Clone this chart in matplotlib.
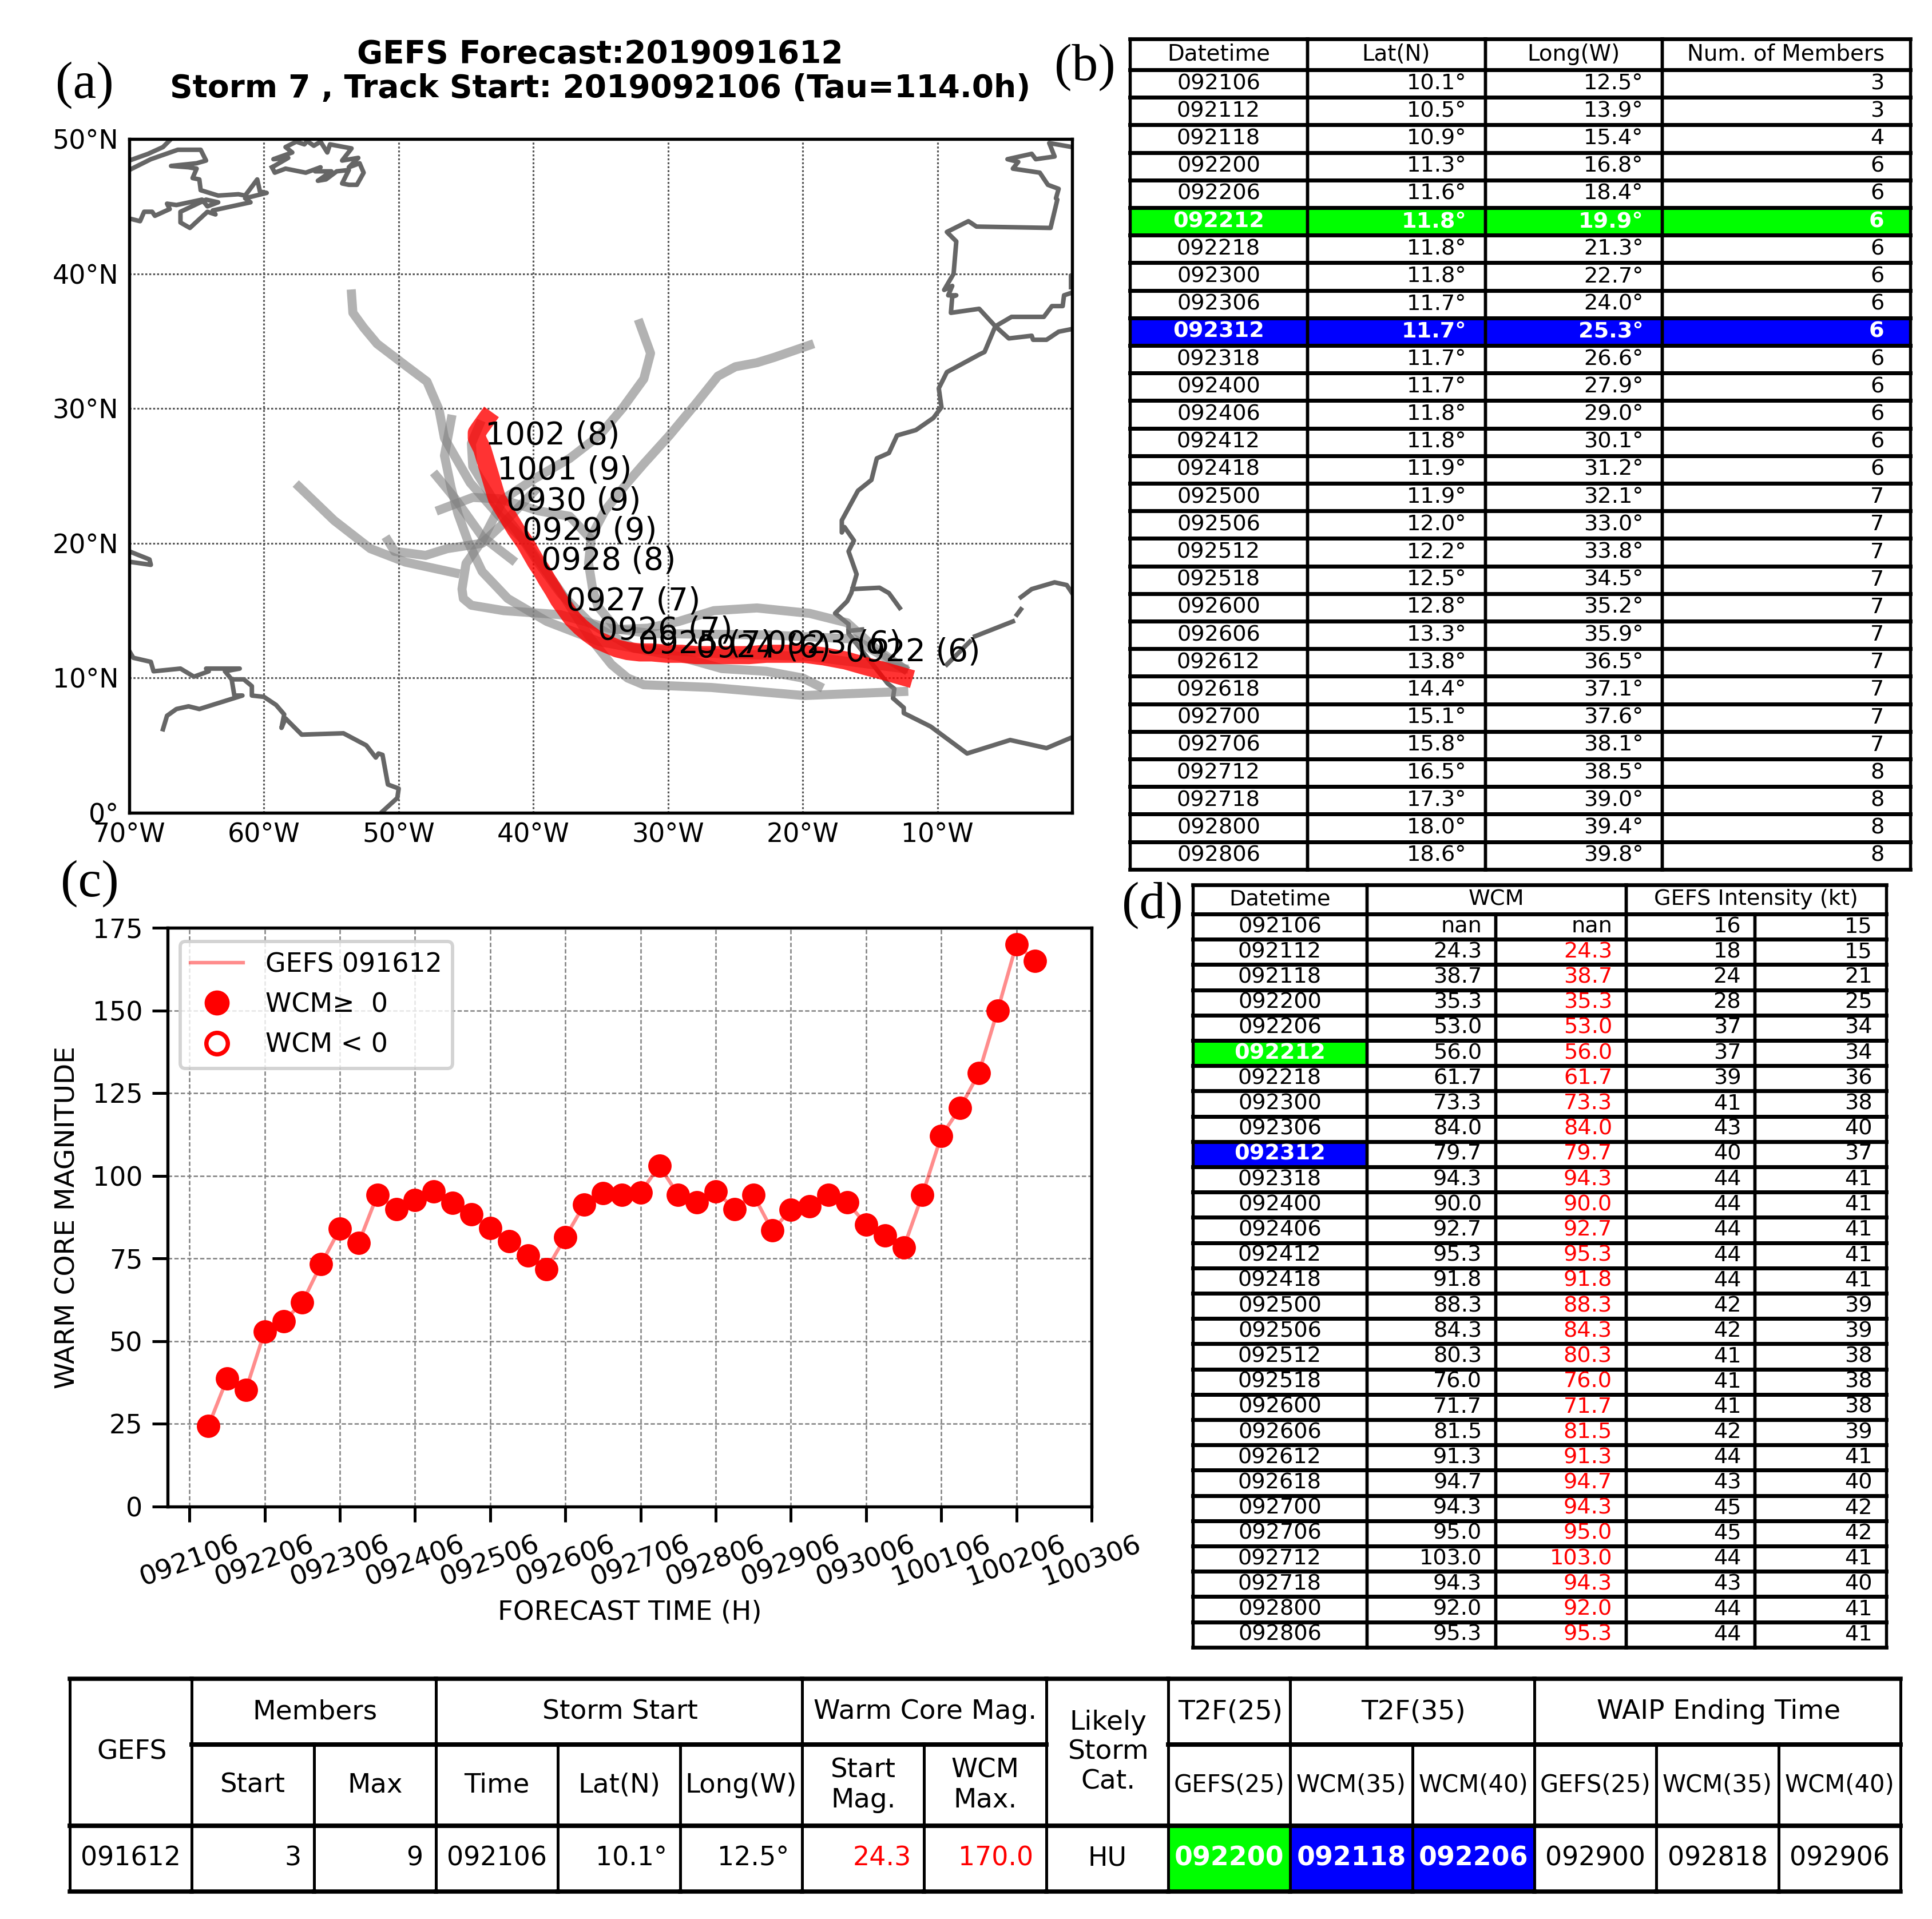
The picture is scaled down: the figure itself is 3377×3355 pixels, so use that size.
import matplotlib
matplotlib.use("Agg")
import matplotlib.pyplot as plt
from matplotlib.patches import Rectangle
from matplotlib.lines import Line2D

W, H, DPI = 3377, 3355, 300

# ---------- data ----------
dates = ["092106","092112","092118","092200","092206","092212","092218","092300","092306","092312",
         "092318","092400","092406","092412","092418","092500","092506","092512","092518","092600",
         "092606","092612","092618","092700","092706","092712","092718","092800","092806"]
lat_n = [10.1,10.5,10.9,11.3,11.6,11.8,11.8,11.8,11.7,11.7,11.7,11.7,11.8,11.8,11.9,11.9,12.0,12.2,12.5,
         12.8,13.3,13.8,14.4,15.1,15.8,16.5,17.3,18.0,18.6]
lon_w = [12.5,13.9,15.4,16.8,18.4,19.9,21.3,22.7,24.0,25.3,26.6,27.9,29.0,30.1,31.2,32.1,33.0,33.8,34.5,
         35.2,35.9,36.5,37.1,37.6,38.1,38.5,39.0,39.4,39.8]
members = [3,3,4,6,6,6,6,6,6,6,6,6,6,6,6,7,7,7,7,7,7,7,7,7,7,8,8,8,8]
wcm_tbl = [None,24.3,38.7,35.3,53.0,56.0,61.7,73.3,84.0,79.7,94.3,90.0,92.7,95.3,91.8,88.3,84.3,80.3,76.0,
           71.7,81.5,91.3,94.7,94.3,95.0,103.0,94.3,92.0,95.3]
int_a = [16,18,24,28,37,37,39,41,43,40,44,44,44,44,44,42,42,41,41,41,42,44,43,45,45,44,43,44,44]
int_b = [15,15,21,25,34,34,36,38,40,37,41,41,41,41,41,39,39,38,38,38,39,41,40,42,42,41,40,41,41]

# panel (c): every 6 h from 092112
wcm_hours = [6*i for i in range(1, 46)]
wcm_vals = [24.3,38.7,35.3,53.0,56.0,61.7,73.3,84.0,79.7,94.3,90.0,92.7,95.3,91.8,88.3,84.3,80.3,76.0,71.7,
            81.5,91.3,94.7,94.3,95.0,103.0,94.3,92.0,95.3,90.0,94.3,83.5,89.7,90.7,94.3,92.0,85.3,82.0,78.3,
            94.3,112.0,120.5,131.0,150.0,170.0,165.0]
c_ticklabels = ["092106","092206","092306","092406","092506","092606","092706","092806","092906","093006",
                "100106","100206","100306"]

# panel (a): mean track beyond table, then member tracks
red_lon_ext = [-40.6,-41.3,-41.9,-42.7,-43.2,-43.5,-43.8,-44.2,-44.2,-44.0,-43.5]
red_lat_ext = [20.0,21.0,22.0,23.3,25.0,26.0,27.0,27.8,28.2,28.5,29.2]
track_lons = [
 [-19.5,-22.1,-23.4,-25.0,-26.3,-27.9,-29.9,-31.8,-33.1,-34.7,-35.7,-35.9,-35.6,-35.2,-33.8,-31.5,-29.2,-26.6,-23.4,-19.5,-16.7,-14.6,-12.5],
 [-32.1,-31.3,-31.8,-33.4,-35.1,-37.3,-39.9,-42.2,-43.8,-45.0,-45.3,-45.2,-44.6,-42.2,-38.0,-34.4,-31.2,-22.7,-16.2,-12.5],
 [-53.5,-53.4,-52.6,-51.6,-49.5,-47.9,-47.0,-46.6,-44.7,-42.6,-40.5,-37.9,-35.8,-34.2,-33.0,-31.8,-26.8,-19.9,-12.5],
 [-46.1,-46.6,-46.1,-45.6,-44.8,-43.8,-41.9,-39.0,-35.1,-29.2,-26.0,-22.7,-20.0,-18.8],
 [-47.2,-45.8,-43.8,-41.6],
 [-57.4,-54.8,-52.1,-49.5,-45.8],
 [-50.8,-50.3,-48.0,-46.4,-43.8,-42.2,-39.9],
 [-46.9,-44.5,-42.5,-39.6,-37.3,-35.9],
 [-44.0,-44.6,-44.5,-42.9,-41.2,-39.6,-38.0,-35.7,-32.5,-26.0,-19.5,-12.5],
]
track_lats = [
 [34.7,33.8,33.4,33.1,32.4,30.4,28.0,25.9,24.4,22.4,20.5,18.5,16.6,15.3,13.6,13.7,14.2,15.0,15.2,14.8,14.1,12.2,10.7],
 [36.3,34.1,32.2,30.0,28.0,26.3,24.8,23.3,20.2,18.5,16.6,15.9,15.4,15.0,14.7,13.7,13.3,13.2,12.9,10.7],
 [38.5,37.1,36.0,34.8,33.2,32.0,29.9,27.8,24.5,22.1,20.0,16.3,13.0,11.0,10.0,9.5,9.3,8.7,9.0],
 [29.2,26.5,24.1,22.2,20.0,17.9,15.9,14.2,12.7,11.6,10.7,10.5,10.0,9.4],
 [25.0,23.3,20.5,18.8],
 [24.2,21.7,19.6,18.6,17.8],
 [20.2,19.4,19.1,19.6,20.0,21.5,23.9],
 [22.5,23.4,23.3,22.4,22.0,20.5],
 [28.8,27.4,25.7,23.1,20.9,18.5,16.3,14.0,12.2,11.8,11.6,10.7],
]
day_labels = ["0922 (6)","0923 (6)","0924 (6)","0925 (7)","0926 (7)","0927 (7)","0928 (8)","0929 (9)","0930 (9)","1001 (9)","1002 (8)"]
day_lon = [-16.8,-22.7,-27.9,-32.2,-35.2,-37.6,-39.4,-40.8,-42.0,-42.7,-43.6]
day_lat = [11.9,12.5,12.2,12.5,13.5,15.7,18.7,20.9,23.1,25.4,28.0]

coast_lons = [
 [0.0,-1.7,-1.3,-2.7,-3.0,-4.8,-4.0,-4.4,-2.4,-1.8,-1.0,-1.2,-1.1,-1.6,-7.1,-7.7,-9.3,-8.6,-8.8,-9.5,-8.9,-9.2,-8.6,-8.9,-9.0,-6.9,-5.7,-4.7,-3.0,-2.9,-1.9,-1.0,0.0],
 [0.0,-0.6,-0.7,-1.5,-2.1,-4.5,-5.7,-6.5,-6.9,-9.3,-9.9,-9.7,-10.3,-11.6,-13.0,-13.6,-14.5,-14.9,-15.9,-17.1,-17.1,-16.9,-16.2,-16.6,-16.0,-16.4,-16.7,-17.6,-16.6,-16.6,-13.7,-13.2,-13.3,-12.5,-12.5,-10.5,-7.8,-4.6,-1.9,0.0],
 [-16.3,-14.3,-13.6,-12.8],
 [-16.6,-15.6],
 [-9.3,-7.6],
 [-7.2,-4.4],
 [-4.1,-3.8],
 [-3.8,-3.0,-1.3,-0.4,0.0],
 [-0.1,-0.1],
 [-59.4,-58.2,-59.3,-57.9,-58.4,-57.6,-57.0,-56.8,-56.3,-55.8,-55.3,-55.1,-53.5,-54.2,-53.0,-53.7,-52.9,-52.6,-53.1,-53.7,-54.2,-53.7,-54.6,-55.4,-56.0,-55.0,-56.2,-55.8,-56.9,-58.4,-59.2,-59.4],
 [-70.0,-68.6,-67.5,-67.0],
 [-70.0,-68.4,-66.4,-64.7,-64.3,-65.0,-66.9,-65.6,-65.0,-65.3,-64.8,-64.7,-63.4,-61.9,-61.4,-60.5,-60.3,-59.8,-61.4,-61.0,-63.8,-63.6,-64.2,-65.5,-66.2,-66.2,-64.3,-63.4,-64.2,-64.6,-66.5,-67.2,-67.0,-68.1,-68.3,-68.9,-69.2,-70.0],
 [-70.0,-68.5,-68.4,-69.8],
 [-70.0,-69.7,-68.4,-68.2,-66.2,-65.2,-64.1,-64.3,-61.8,-62.9,-62.4,-61.5,-60.9,-60.9,-60.0,-59.1,-58.5,-58.7,-58.4,-57.2,-54.1,-52.4,-51.7,-51.5,-51.2,-50.8,-50.0,-50.1,-51.2],
 [-62.4,-62.2,-61.6,-64.8,-65.6,-66.5,-67.2,-67.5],
]
coast_lats = [
 [49.4,49.7,48.7,48.5,48.9,48.5,48.3,47.8,47.5,46.6,46.3,45.6,45.5,43.4,43.5,43.9,43.1,42.4,40.0,38.8,39.1,38.4,38.4,38.3,37.1,37.4,36.1,35.2,35.4,35.1,35.1,35.7,35.9],
 [38.6,38.4,37.6,37.6,36.8,36.8,36.1,34.2,34.0,32.7,31.5,30.1,29.3,28.4,28.0,26.7,26.3,24.7,23.9,21.7,20.8,21.2,20.2,19.4,17.7,16.3,15.7,14.8,14.0,13.3,9.6,9.2,8.5,7.8,7.4,6.4,4.4,5.4,4.8,5.6],
 [16.6,16.7,16.3,15.2],
 [13.5,13.6],
 [11.0,12.7],
 [13.1,14.2],
 [14.7,15.1],
 [16.0,16.6,17.1,16.9,16.3],
 [39.8,39.0],
 [47.9,48.6,48.5,49.0,49.4,49.8,49.6,49.85,49.5,49.8,49.0,49.6,49.3,48.4,48.6,47.9,48.2,47.5,46.6,46.6,46.7,47.7,47.6,47.0,46.9,47.6,47.6,47.9,47.5,47.8,47.5,47.9],
 [48.4,48.9,49.4,49.9],
 [47.7,48.5,49.2,49.2,48.4,48.2,48.0,47.9,47.8,47.1,47.0,46.2,45.8,45.9,45.8,47.0,46.1,46.0,45.6,45.3,44.7,44.4,44.6,43.4,43.8,44.6,45.5,45.3,45.0,45.5,45.1,45.2,44.8,44.3,44.6,44.6,43.9,44.1],
 [19.4,18.8,18.4,18.6],
 [12.0,11.5,11.2,10.5,10.7,10.1,10.5,10.7,10.7,10.5,9.9,9.9,9.4,8.7,8.6,8.0,7.3,6.3,7.0,5.8,5.9,5.0,4.1,4.4,4.3,2.1,1.8,1.1,0.1],
 [9.9,8.7,8.7,7.7,7.9,7.7,7.2,6.2],
]

# summary table contents
sum_top = ["GEFS","Members","Storm Start","Warm Core Mag.","Likely\nStorm\nCat.","T2F(25)","T2F(35)","WAIP Ending Time"]
sum_spans = [(0,1),(1,3),(3,6),(6,8),(8,9),(9,10),(10,12),(12,15)]
sum_sub = ["Start","Max","Time","Lat(N)","Long(W)","Start\nMag.","WCM\nMax.",None,"GEFS(25)","WCM(35)","WCM(40)","GEFS(25)","WCM(35)","WCM(40)"]
sum_vals = ["091612","3","9","092106","10.1°","12.5°","24.3","170.0","HU","092200","092118","092206","092900","092818","092906"]
# ---------- figure ----------
plt.rcParams["font.family"] = "DejaVu Sans"
fig = plt.figure(figsize=(W/DPI, H/DPI), dpi=DPI)

def axes_px(l, t, r, b):
    return fig.add_axes([l/W, 1-b/H, (r-l)/W, (b-t)/H])

# ---- panel (a)
axm = axes_px(226, 243, 1874, 1421)
axm.set_xlim(-70, 0); axm.set_ylim(0, 50)
axm.set_xticks(range(-70, 0, 10))
axm.set_xticklabels([f"{abs(v)}°W" for v in range(-70, 0, 10)], fontsize=11)
axm.set_yticks(range(0, 60, 10))
axm.set_yticklabels(["0°"]+[f"{v}°N" for v in range(10, 60, 10)], fontsize=11)
axm.tick_params(length=0, pad=4.5)
axm.tick_params(axis="x", pad=4)
for t in axm.get_yticklabels():
    t.set_verticalalignment("center_baseline")
axm.grid(True, color="#555555", lw=0.75, ls=(0, (1.1, 1.1)), zorder=1)
axm.set_axisbelow(True)
for lo, la in zip(coast_lons, coast_lats):
    axm.plot(lo, la, color="#666666", lw=1.9, zorder=2, solid_joinstyle="round")
for lo, la in zip(track_lons, track_lats):
    axm.plot(lo, la, color="gray", alpha=0.6, lw=3.8, zorder=3, solid_capstyle="projecting", solid_joinstyle="round")
axm.plot([-v for v in lon_w]+red_lon_ext, lat_n+red_lat_ext, color="red", alpha=0.8, lw=7.6, zorder=4,
         solid_capstyle="projecting", solid_joinstyle="round")
for s, lo, la in zip(day_labels, day_lon, day_lat):
    axm.text(lo, la, s, fontsize=13.2, va="center", ha="left", color="black", zorder=5)
for s in axm.spines.values():
    s.set_linewidth(1.3)

# ---- panel (c)
axc = axes_px(293, 1622, 1908, 2634)
axc.set_xlim(-7, 288); axc.set_ylim(0, 175)
axc.plot(wcm_hours, wcm_vals, color="red", alpha=0.45, lw=1.5, zorder=3)
axc.plot(wcm_hours, wcm_vals, ls="none", marker="o", ms=8.8, color="red", zorder=4)
axc.set_xticks(range(0, 312, 24))
axc.set_xticklabels(c_ticklabels, rotation=20, fontsize=11.4, ha="center")
axc.set_yticks(range(0, 200, 25))
axc.tick_params(axis="y", labelsize=11, length=6.5, width=1.2, pad=4)
axc.tick_params(axis="x", length=6.5, width=1.2, pad=4)
axc.grid(True, color="gray", lw=0.6, ls=(0, (3, 1.5)))
axc.set_axisbelow(True)
axc.set_xlabel("FORECAST TIME (H)", fontsize=11.2, labelpad=3.5)
axc.set_ylabel("WARM CORE MAGNITUDE", fontsize=11.3, labelpad=5)
for s in axc.spines.values():
    s.set_linewidth(1.3)
handles = [Line2D([], [], color="red", alpha=0.45, lw=1.5),
           Line2D([], [], ls="none", marker="o", ms=9.5, color="red"),
           Line2D([], [], ls="none", marker="o", ms=9, mfc="white", mec="red", mew=1.8)]
leg = axc.legend(handles, ["GEFS 091612", "WCM≥  0", "WCM < 0"], loc="upper left", fontsize=11,
                 bbox_to_anchor=(0.005, 0.99), borderaxespad=0.3, labelspacing=0.55, handlelength=2.0, handletextpad=0.85)
leg.get_frame().set_linewidth(1.4)
leg.get_frame().set_edgecolor("#c8c8c8")

# ---- overlay for tables and letters
ov = fig.add_axes([0, 0, 1, 1])
ov.set_xlim(0, W); ov.set_ylim(H, 0); ov.axis("off"); ov.patch.set_alpha(0)

LIME, BLUE = "#00ff00", "#0000ff"

def cell(x0, x1, y0, y1, txt="", fs=9, fc=None, color="black", ha="center", bold=False, lwh=1.6, lwv=1.3, dx=0):
    if fc:
        ov.add_patch(Rectangle((x0, y0), x1-x0, y1-y0, fc=fc, ec="none", zorder=1))
    ov.plot([x0, x1], [y0, y0], color="black", lw=lwh, zorder=3, solid_capstyle="projecting")
    ov.plot([x0, x1], [y1, y1], color="black", lw=lwh, zorder=3, solid_capstyle="projecting")
    ov.plot([x0, x0], [y0, y1], color="black", lw=lwv, zorder=3, solid_capstyle="projecting")
    ov.plot([x1, x1], [y0, y1], color="black", lw=lwv, zorder=3, solid_capstyle="projecting")
    if txt:
        tx = (x0+x1)/2+dx if ha == "center" else x1-0.105*(x1-x0)
        ov.text(tx, (y0+y1)/2, txt, fontsize=fs, ha=ha, va="center", color=color, zorder=4,
                fontweight="bold" if bold else "normal", linespacing=1.2)

# table (b)
bx = [1975, 2285, 2596, 2905, 3339]
by0, bhead, brow = 68, 54, 48.2
for i, s in enumerate(["Datetime", "Lat(N)", "Long(W)", "Num. of Members"]):
    cell(bx[i], bx[i+1], by0, by0+bhead, s, fs=9.3)
for r, d in enumerate(dates):
    y0 = by0+bhead+r*brow; y1 = y0+brow
    fc = {5: LIME, 9: BLUE}.get(r)
    col = "white" if fc else "black"
    vals = [d, f"{lat_n[r]:.1f}°", f"{lon_w[r]:.1f}°", str(members[r])]
    for c, v in enumerate(vals):
        cell(bx[c], bx[c+1], y0, y1, v, fs=9.2, fc=fc, color=col, ha="center" if c == 0 else "right", bold=bool(fc))

# table (d)
dx = [2085, 2389, 2614, 2842, 3067, 3297]
dy0, dhead, drow = 1547, 51, 44.2
cell(dx[0], dx[1], dy0, dy0+dhead, "Datetime", fs=9.2)
cell(dx[1], dx[3], dy0, dy0+dhead, "WCM", fs=9.2)
cell(dx[3], dx[5], dy0, dy0+dhead, "GEFS Intensity (kt)", fs=9.2)
for r, d in enumerate(dates):
    y0 = dy0+dhead+r*drow; y1 = y0+drow
    fc = {5: LIME, 9: BLUE}.get(r)
    w = "nan" if wcm_tbl[r] is None else f"{wcm_tbl[r]:.1f}"
    cell(dx[0], dx[1], y0, y1, d, fs=9.2, fc=fc, color="white" if fc else "black", bold=bool(fc))
    cell(dx[1], dx[2], y0, y1, w, fs=9.2, ha="right")
    cell(dx[2], dx[3], y0, y1, w, fs=9.2, ha="right", color="black" if wcm_tbl[r] is None else "red")
    cell(dx[3], dx[4], y0, y1, str(int_a[r]), fs=9.2, ha="right")
    cell(dx[4], dx[5], y0, y1, str(int_b[r]), fs=9.2, ha="right")

# summary table
sx = [122+213.33*i for i in range(16)]
sy = [2935, 3050, 3192, 3307]
kw = dict(lwh=1.8, lwv=1.2)
for txt, (a, b) in zip(sum_top, sum_spans):
    merged = a == 0 or a == 8
    cell(sx[a], sx[b], sy[0], sy[2] if merged else sy[1], txt, fs=11.3, dx=2, **kw)
for i, txt in enumerate(sum_sub):
    if txt is None:
        continue
    cell(sx[i+1], sx[i+2], sy[1], sy[2], txt, fs=10 if "(" in txt and i >= 8 else 11.2, **kw)
right_cols = {1, 2, 4, 5, 6, 7}
fill = {9: LIME, 10: BLUE, 11: BLUE}
for i, txt in enumerate(sum_vals):
    fc = fill.get(i)
    col = "white" if fc else ("red" if i in (6, 7) else "black")
    cell(sx[i], sx[i+1], sy[2], sy[3], txt, fs=11, fc=fc, color=col, ha="right" if i in right_cols else "center", bold=bool(fc), **kw)

# panel letters and title
serif = "Liberation Serif"
for s, x, y in [("(a)", 148, 149), ("(b)", 1896, 118), ("(c)", 157, 1545), ("(d)", 2014, 1583)]:
    ov.text(x, y, s, fontsize=22, family=serif, ha="center", va="center")
ov.text(1049, 95, "GEFS Forecast:2019091612", fontsize=13.2, fontweight="bold", ha="center", va="center")
ov.text(1049, 155, "Storm 7 , Track Start: 2019092106 (Tau=114.0h)", fontsize=13.2, fontweight="bold", ha="center", va="center")

fig.savefig("out.png", dpi=DPI, facecolor="white")
